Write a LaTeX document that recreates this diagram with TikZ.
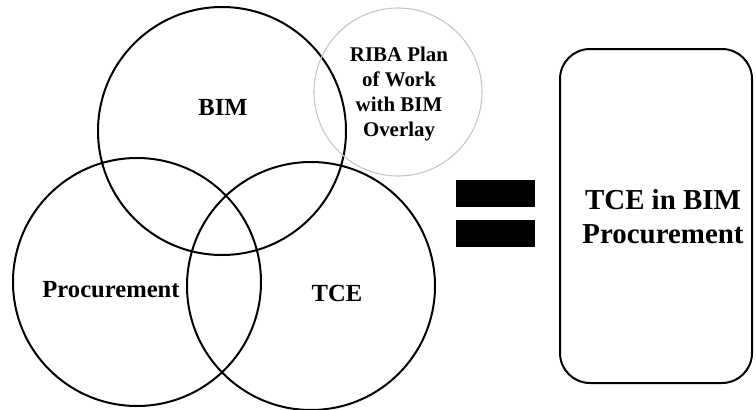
\documentclass[tikz,border=0pt]{standalone}
\usepackage{fontspec}
\setmainfont{Liberation Serif}
\usepackage{tikz}
\usetikzlibrary{calc}

\tikzset{
    setring/.style={line width=2pt, black},
    ribaring/.style={line width=1.1pt, gray!45},
    setlabel/.style={font=\bfseries\fontsize{24.6}{28}\selectfont},
    ribalabel/.style={font=\bfseries\fontsize{20.9}{25}\selectfont, align=center},
    bigbox/.style={draw, line width=2pt, rounded corners=30pt, minimum width=192pt, minimum height=334pt},
    boxlabel/.style={font=\bfseries\fontsize{28.9}{34}\selectfont, align=center},
    eqbar/.style={fill=black}
}

\begin{document}
\begin{tikzpicture}[x=1pt, y=-1pt]
        \useasboundingbox (0,0) rectangle (756,410);

        % venn circles
        % ------------
        % centres
        \coordinate (Cbim) at (222,131);
        \coordinate (Cproc) at (137,282);
        \coordinate (Ctce) at (311,286);
        \coordinate (Criba) at (398,92);

        % draw circles
        \foreach \c in {Cbim, Cproc, Ctce}
            \draw[setring] (\c) circle (124pt);
        \draw[ribaring] (Criba) circle (84pt);

        % add labels
        \node[setlabel] (bim) at (223,107) {BIM};
        \node[setlabel] (proc) at (111,290) {Procurement};
        \node[setlabel] (tce) at (337,293) {TCE};
        \node[ribalabel] (riba) at (399,94) {RIBA Plan\\of Work\\with BIM\\Overlay};

        % equals sign
        % -----------
        \fill[eqbar] (456,180) rectangle (535,207);
        \fill[eqbar] (456,220) rectangle (535,247);

        % result box
        % ----------
        \node[bigbox] (result) at (656,216) {};
        \node[boxlabel] (resultlabel) at (663,217) {TCE in BIM\\Procurement};

    \end{tikzpicture}
\end{document}
